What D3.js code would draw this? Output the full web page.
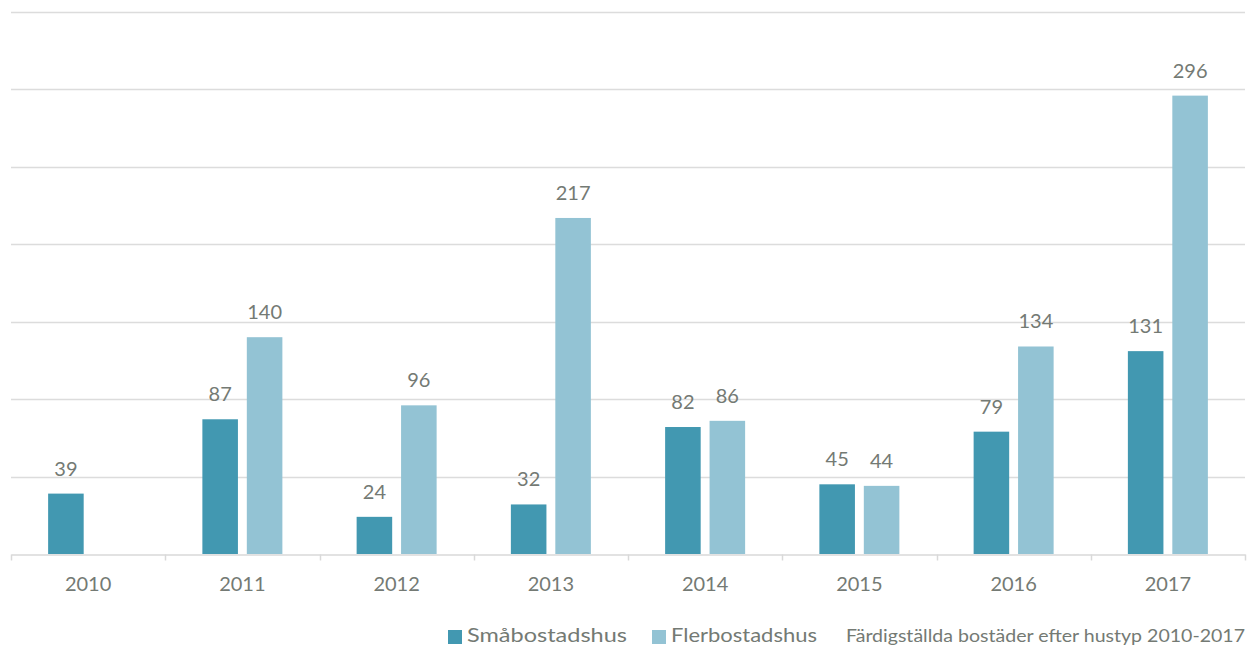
<!DOCTYPE html>
<html lang="sv">
<head>
  <meta charset="UTF-8" />
  <title>Färdigställda bostäder efter hustyp 2010-2017</title>
  <style>
    body { margin: 0; padding: 0; background: #fff; font-family: Lato, "Open Sans", sans-serif; }
    svg { display: block; }
  </style>
</head>
<body>
  <svg id="chart"></svg>
  <script src="https://d3js.org/d3.v7.min.js"></script>
  <script>
    const width = 1247, height = 648;

    // data
    const years = ["2010", "2011", "2012", "2013", "2014", "2015", "2016", "2017"];
    const smabostadshus = [39, 87, 24, 32, 82, 45, 79, 131];
    const flerbostadshus = [null, 140, 96, 217, 86, 44, 134, 296];
    const seriesNames = ["Småbostadshus", "Flerbostadshus"];
    const seriesColors = ["#4298b1", "#93c3d4"];
    const yTicks = [0, 50, 100, 150, 200, 250, 300, 350];
    const chartTitle = "Färdigställda bostäder efter hustyp 2010-2017";

    const margin = { top: 12, right: 2, bottom: 94, left: 11 };
    const innerH = height - margin.top - margin.bottom;

    const svg = d3.select("#chart")
      .attr("width", width)
      .attr("height", height);

    const x = d3.scaleBand()
      .domain(years)
      .range([margin.left, width - margin.right])
      .paddingInner(0)
      .paddingOuter(0);

    const groupW = 80;
    const xs = d3.scaleBand()
      .domain([0, 1])
      .range([(x.bandwidth() - groupW) / 2, (x.bandwidth() + groupW) / 2])
      .paddingInner(0.2)
      .paddingOuter(0);

    const y = d3.scaleLinear()
      .domain([0, 350])
      .range([margin.top + innerH, margin.top]);

    // gridlines
    svg.append("g")
      .selectAll("line")
      .data(yTicks.slice(1))
      .join("line")
      .attr("x1", margin.left)
      .attr("x2", width - margin.right)
      .attr("y1", d => Math.round(y(d)) + 0.5)
      .attr("y2", d => Math.round(y(d)) + 0.5)
      .attr("stroke", "#dcdcdc")
      .attr("stroke-width", 1.5);

    // bars
    const series = [smabostadshus, flerbostadshus];
    series.forEach((vals, si) => {
      const g = svg.append("g");
      const rows = years.map((yr, i) => ({ yr, v: vals[i] })).filter(d => d.v != null);
      g.selectAll("rect")
        .data(rows)
        .join("rect")
        .attr("x", d => x(d.yr) + xs(si))
        .attr("width", xs.bandwidth())
        .attr("y", d => y(d.v))
        .attr("height", d => y(0) - y(d.v))
        .attr("fill", seriesColors[si]);

      g.selectAll("text")
        .data(rows)
        .join("text")
        .attr("x", d => x(d.yr) + xs(si) + xs.bandwidth() / 2)
        .attr("y", d => y(d.v) - 18)
        .attr("text-anchor", "middle")
        .attr("font-size", "20px")
        .attr("fill", "#747a74")
        .text(d => d.v);
    });

    // x axis
    const xAxis = svg.append("g")
      .attr("transform", `translate(0,${Math.round(y(0)) + 0.5})`)
      .call(d3.axisBottom(x).tickSize(0).tickPadding(22));
    xAxis.select(".domain").attr("stroke", "#d9d9d9").attr("stroke-width", 1.5);
    xAxis.selectAll("text")
      .attr("font-family", "Lato, sans-serif")
      .attr("font-size", "20px")
      .attr("fill", "#747a74");

    const edges = years.map(d => x(d)).concat([x(years[years.length - 1]) + x.bandwidth()]);
    xAxis.selectAll(".edge")
      .data(edges)
      .join("line")
      .attr("class", "edge")
      .attr("x1", d => Math.round(d) + 0.5)
      .attr("x2", d => Math.round(d) + 0.5)
      .attr("y1", 0)
      .attr("y2", 6)
      .attr("stroke", "#d9d9d9")
      .attr("stroke-width", 1.5);

    // legend
    const legendY = 642;
    const legend = svg.append("g");
    const legendX = [448, 652];
    const legendLen = [160, 146];
    seriesNames.forEach((name, i) => {
      legend.append("rect")
        .attr("x", legendX[i])
        .attr("y", legendY - 12)
        .attr("width", 14)
        .attr("height", 14)
        .attr("fill", seriesColors[i]);
      legend.append("text")
        .attr("x", legendX[i] + 19)
        .attr("y", legendY)
        .attr("font-size", "20px")
        .attr("textLength", legendLen[i])
        .attr("lengthAdjust", "spacingAndGlyphs")
        .attr("fill", "#747a74")
        .text(name);
    });
    legend.append("text")
      .attr("x", 846)
      .attr("y", legendY)
      .attr("font-size", "18px")
      .attr("textLength", 399)
      .attr("lengthAdjust", "spacingAndGlyphs")
      .attr("fill", "#747a74")
      .text(chartTitle);
  </script>
</body>
</html>
